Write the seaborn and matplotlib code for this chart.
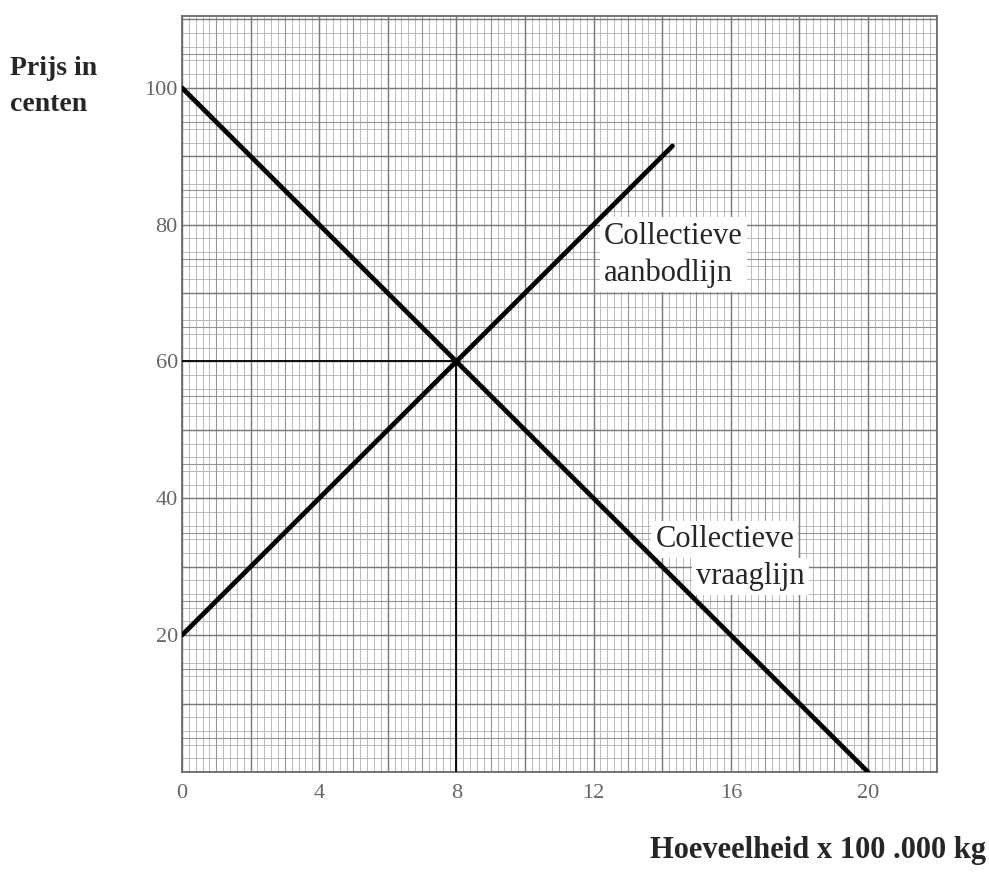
import numpy as np
import pandas as pd
import matplotlib.pyplot as plt
import seaborn as sns

# data
supply_q = [0, 14.3]
supply_p = [20, 91.5]
demand_q = [0, 20]
demand_p = [100, 0]
eq_q = 8
eq_p = 60

x_ticks = [0, 4, 8, 12, 16, 20]
y_ticks = [20, 40, 60, 80, 100]

sns.set_style('white')
plt.rcParams['font.family'] = ['Liberation Serif', 'DejaVu Serif']

fig = plt.figure(figsize=(9.89, 8.72), dpi=100)
ax = fig.add_axes([0.184, 0.1147, 0.763, 0.867])

supply = pd.DataFrame({'q': supply_q, 'p': supply_p})
demand = pd.DataFrame({'q': demand_q, 'p': demand_p})
sns.lineplot(data=supply, x='q', y='p', color='black', lw=3.4, ax=ax, zorder=7)
sns.lineplot(data=demand, x='q', y='p', color='black', lw=3.4, ax=ax, zorder=7)

# helper lines to the equilibrium
ax.plot([0, eq_q], [eq_p, eq_p], color='black', lw=1.3, zorder=4)
ax.plot([eq_q, eq_q], [0, eq_p], color='black', lw=1.3, zorder=4)

ax.set_xlim(0, 22)
ax.set_ylim(0, 110.5)

# graph paper grid
for v in np.arange(0, 22.01, 0.2):
    ax.axvline(v, color='#b0b0b0', lw=0.6, zorder=1)
for v in np.arange(0, 110.6, 2):
    ax.axhline(v, color='#b0b0b0', lw=0.6, zorder=1)
for v in np.arange(0, 22.01, 1):
    ax.axvline(v, color='#959595', lw=0.8, zorder=2)
for v in np.arange(0, 110.6, 5):
    ax.axhline(v, color='#959595', lw=0.8, zorder=2)
for v in np.arange(0, 22.01, 2):
    ax.axvline(v, color='#7a7a7a', lw=1.0, zorder=2)
for v in np.arange(0, 110.6, 10):
    ax.axhline(v, color='#7a7a7a', lw=1.0, zorder=2)

ax.set_xticks(x_ticks)
ax.set_yticks(y_ticks)
ax.set_xticklabels([str(t) for t in x_ticks])
ax.set_yticklabels([str(t) for t in y_ticks])
ax.tick_params(length=0, labelsize=16, labelcolor='#666666')
ax.tick_params(axis='y', pad=3)
ax.tick_params(axis='x', pad=9)
ax.set_xlabel('')
ax.set_ylabel('')
for s in ax.spines.values():
    s.set_color('#6a6a6a')
    s.set_linewidth(1.3)

# labels
fig.text(0.010, 0.901, 'Prijs in\ncenten', fontsize=20, fontweight='bold',
         va='center', ha='left', linespacing=1.6)
fig.text(0.997, 0.008, 'Hoeveelheid x 100 .000 kg', fontsize=22,
         fontweight='bold', ha='right', va='bottom')

box = dict(facecolor='white', edgecolor='none', pad=3)
ax.text(12.3, 75.6, 'Collectieve\naanbodlijn', fontsize=22, ha='left', va='center',
        linespacing=1.35, zorder=6, bbox=box)
ax.text(13.8, 34.0, 'Collectieve', fontsize=22, ha='left', va='center',
        zorder=6, bbox=box)
ax.text(15.0, 28.6, 'vraaglijn', fontsize=22, ha='left', va='center',
        zorder=6, bbox=box)

fig.savefig('out.png', dpi=100)
